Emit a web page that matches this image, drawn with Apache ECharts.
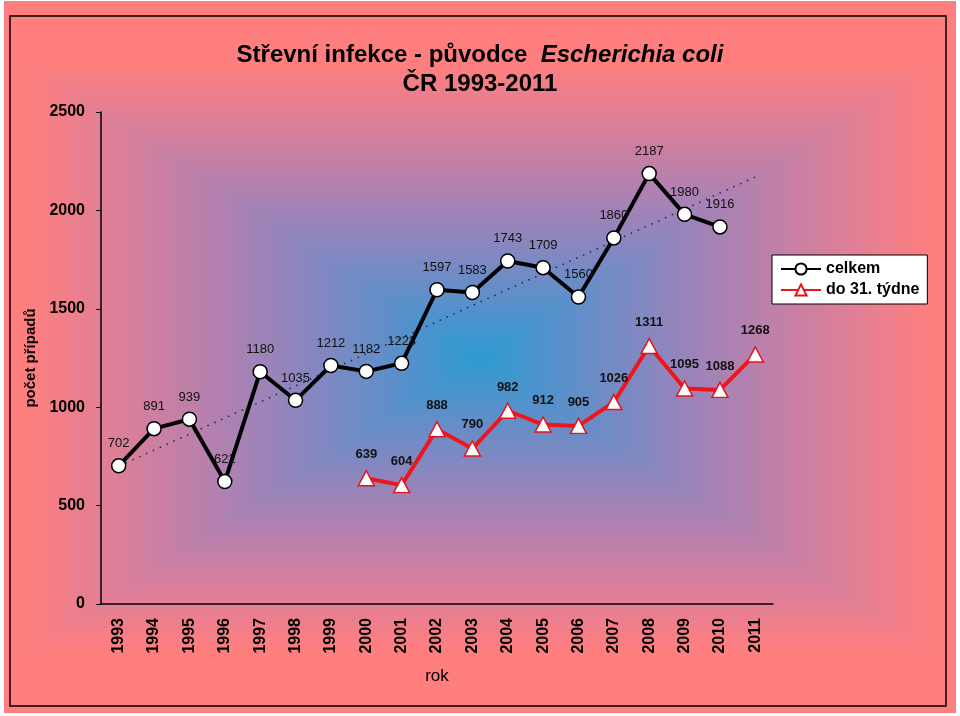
<!DOCTYPE html>
<html><head><meta charset="utf-8">
<script src="https://cdn.jsdelivr.net/npm/echarts@6/dist/echarts.min.js"></script>
<style>html,body{margin:0;padding:0;background:#fff;}#c{width:960px;height:716px;}</style>
</head><body><div id="c"></div>
<script>
const years = ['1993','1994','1995','1996','1997','1998','1999','2000','2001','2002','2003','2004','2005','2006','2007','2008','2009','2010','2011'];
const celkem = [702,891,939,622,1180,1035,1212,1182,1223,1597,1583,1743,1709,1560,1860,2187,1980,1916,null];
const do31 = [null,null,null,null,null,null,null,639,604,888,790,982,912,905,1026,1311,1095,1088,1268];
const trendStart = 700, trendEnd = 2170;
const yMin = 0, yMax = 2500, yStep = 500;

const FONT = '"Liberation Sans", Arial, sans-serif';
// rectangular "from center" background gradient
const blue = [44,155,210], salmon = [255,127,127], tint = [12,-10,14];
const bg = [{type:'rect', z:-300, silent:true, shape:{x:4, y:1, width:952, height:712},
  style:{fill:'rgb(' + salmon.join(',') + ')'}}];
const N = 120, cx = 480, cy = 357, hw = 455, hh = 295;
for (let i = 0; i < N; i++) {
  const t = 1 - i / N;
  const bump = Math.sin(Math.PI * t);
  const c = blue.map((b, k) => Math.max(0, Math.min(255, Math.round(b + (salmon[k] - b) * t + tint[k] * bump))));
  bg.push({type:'rect', z:-200 + i, silent:true,
    shape:{x: cx - hw*t, y: cy - hh*t, width: 2*hw*t, height: 2*hh*t},
    style:{fill:'rgb(' + c.join(',') + ')'}});
}
bg.push({type:'rect', z:-50, silent:true, shape:{x:10, y:16, width:936, height:690},
  style:{fill:'none', stroke:'#000', lineWidth:1.5}});

const chart = echarts.init(document.getElementById('c'));
chart.setOption({
  animation:false,
  backgroundColor:'#fff',
  textStyle:{fontFamily:FONT},
  graphic:{elements:bg},
  title:[
    {text:'{a|Střevní infekce - původce  }{b|Escherichia coli}', left:'center', top:38,
     textStyle:{rich:{
       a:{fontFamily:FONT, fontSize:24, fontWeight:'bold', color:'#000'},
       b:{fontFamily:FONT, fontSize:24, fontWeight:'bold', fontStyle:'italic', color:'#000'}}}},
    {text:'ČR 1993-2011', left:'center', top:67,
     textStyle:{fontFamily:FONT, fontSize:24, fontWeight:'bold', color:'#000'}}
  ],
  legend:{
    orient:'vertical', left:772, top:255, padding:[6,8,6,8], itemGap:5,
    backgroundColor:'#fff', borderColor:'#000', borderWidth:1,
    itemWidth:40, itemHeight:14,
    textStyle:{fontFamily:FONT, fontSize:16, fontWeight:'bold', color:'#000'},
    data:['celkem','do 31. týdne']
  },
  grid:{left:101, right:187, top:112, bottom:112},
  xAxis:{
    type:'category', data:years, boundaryGap:true,
    name:'rok', nameLocation:'middle', nameGap:64,
    nameTextStyle:{fontFamily:FONT, fontSize:17, color:'#000'},
    axisLine:{lineStyle:{color:'#000', width:1.5}},
    axisTick:{inside:false, length:6, lineStyle:{color:'#000'}},
    axisLabel:{rotate:90, margin:14, fontFamily:FONT, fontSize:16, fontWeight:'bold', color:'#000'},
    splitLine:{show:false}
  },
  yAxis:{
    type:'value', min:yMin, max:yMax, interval:yStep,
    name:'počet případů', nameLocation:'middle', nameGap:61, nameRotate:90,
    nameTextStyle:{fontFamily:FONT, fontSize:15, fontWeight:'bold', color:'#000'},
    axisLine:{show:true, lineStyle:{color:'#000', width:1.5}},
    axisTick:{show:true, length:5, lineStyle:{color:'#000'}},
    axisLabel:{margin:16, fontFamily:FONT, fontSize:16, fontWeight:'bold', color:'#000',
      formatter: v => String(v)},
    splitLine:{show:false}
  },
  series:[
    {name:'trend', type:'line', data:[[0,trendStart],[years.length-1,trendEnd]],
     symbol:'none', silent:true, z:1,
     lineStyle:{color:'#1a2550', width:1.5, type:[1.5,6]}},
    {name:'celkem', type:'line', data:celkem, z:3,
     symbol:'circle', symbolSize:14,
     itemStyle:{color:'#fff', borderColor:'#000', borderWidth:1.5},
     lineStyle:{color:'#000', width:4},
     label:{show:true, position:'top', distance:8, fontFamily:FONT, fontSize:13, color:'#111'}},
    {name:'do 31. týdne', type:'line', data:do31, z:3,
     symbol:'triangle', symbolSize:[16,15],
     itemStyle:{color:'#fff', borderColor:'#e3141b', borderWidth:1.5},
     lineStyle:{color:'#f0141b', width:4},
     label:{show:true, position:'top', distance:9, fontFamily:FONT, fontSize:13, fontWeight:'bold', color:'#111'}}
  ]
});
</script></body></html>
